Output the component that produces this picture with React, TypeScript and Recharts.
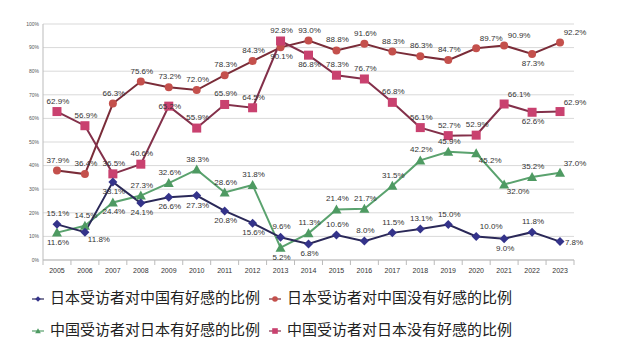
import { LineChart, Line, XAxis, YAxis, CartesianGrid, LabelList } from "recharts";

const years = ["2005", "2006", "2007", "2008", "2009", "2010", "2011", "2012", "2013", "2014", "2015", "2016", "2017", "2018", "2019", "2020", "2021", "2022", "2023"];

// 日本受访者对中国有好感的比例
const jpFavorable = [15.1, 11.8, 33.1, 24.1, 26.6, 27.3, 20.8, 15.6, 9.6, 6.8, 10.6, 8.0, 11.5, 13.1, 15.0, 10.0, 9.0, 11.8, 7.8];
// 日本受访者对中国没有好感的比例
const jpUnfavorable = [37.9, 36.4, 66.3, 75.6, 73.2, 72.0, 78.3, 84.3, 90.1, 93.0, 88.8, 91.6, 88.3, 86.3, 84.7, 89.7, 90.9, 87.3, 92.2];
// 中国受访者对日本有好感的比例
const cnFavorable = [11.6, 14.5, 24.4, 27.3, 32.6, 38.3, 28.6, 31.8, 5.2, 11.3, 21.4, 21.7, 31.5, 42.2, 45.9, 45.2, 32.0, 35.2, 37.0];
// 中国受访者对日本没有好感的比例
const cnUnfavorable = [62.9, 56.9, 36.5, 40.6, 65.2, 55.9, 65.9, 64.5, 92.8, 86.8, 78.3, 76.7, 66.8, 56.1, 52.7, 52.9, 66.1, 62.6, 62.9];

const yTicks = [0, 10, 20, 30, 40, 50, 60, 70, 80, 90, 100];

const seriesNames = [
  "日本受访者对中国有好感的比例",
  "日本受访者对中国没有好感的比例",
  "中国受访者对日本有好感的比例",
  "中国受访者对日本没有好感的比例",
];

// where each value label sits relative to its point
const jpFavPos = ["t", "br", "b", "b", "b", "b", "b", "b", "t", "b", "t", "t", "t", "t", "t", "tr", "b", "t", "r"];
const jpUnfavPos = ["t", "t", "t", "t", "t", "t", "t", "t", "b", "t", "t", "t", "t", "t", "t", "tr", "tr", "b", "tr"];
const cnFavPos = ["b", "t", "b", "t", "t", "t", "t", "t", "b", "t", "t", "t", "t", "t", "t", "br", "br", "t", "tr"];
const cnUnfavPos = ["t", "t", "t", "t", "c", "t", "t", "t", "t", "b", "t", "t", "t", "t", "t", "t", "tr", "b", "tr"];

const data = years.map((year, i) => ({
  year,
  jpFav: jpFavorable[i],
  jpUnfav: jpUnfavorable[i],
  cnFav: cnFavorable[i],
  cnUnfav: cnUnfavorable[i],
}));

const W = 640;
const H = 285;
const M = { top: 24, right: 66, left: 13, bottom: 5 };
const Y_W = 30;
const STEP = (W - M.left - Y_W - M.right) / years.length;

const OFF: Record<string, [number, number]> = {
  t: [1, -8],
  b: [1, 12],
  tr: [15, -7],
  br: [14, 10],
  r: [14, 3],
  c: [1, 3],
};

const C = {
  jpFavLine: "#2a2858",
  jpFavDot: "#34338a",
  jpUnfavLine: "#7a2c38",
  jpUnfavDot: "#c4504c",
  cnFavLine: "#5aa26e",
  cnFavDot: "#4e9a62",
  cnUnfavLine: "#83304a",
  cnUnfavDot: "#c9416f",
};

const makeLabel = (pos: string[]) => (props: any) => {
  const { x, y, value, index } = props;
  const [dx, dy] = OFF[pos[index]] || OFF.t;
  return (
    <text x={x + dx} y={y + dy} textAnchor="middle" fontSize={8} fill="#333"
      fontFamily="Liberation Sans, Arial, sans-serif">
      {value.toFixed(1)}%
    </text>
  );
};

const Diamond = ({ cx, cy, fill, s = 4.5 }: any) => (
  <path d={`M${cx},${cy - s}L${cx + s},${cy}L${cx},${cy + s}L${cx - s},${cy}Z`} fill={fill} />
);
const Circle = ({ cx, cy, fill, s = 4 }: any) => <circle cx={cx} cy={cy} r={s} fill={fill} />;
const Square = ({ cx, cy, fill, s = 4.5 }: any) => <rect x={cx - s} y={cy - s} width={2 * s} height={2 * s} fill={fill} />;
const Triangle = ({ cx, cy, fill, s = 5 }: any) => (
  <path d={`M${cx},${cy - s}L${cx + s},${cy + s * 0.8}L${cx - s},${cy + s * 0.8}Z`} fill={fill} />
);

const dotFn = (Shape: any, fill: string) => (p: any) =>
  p.cx == null ? <g key={p.index} /> : <Shape key={p.index} cx={p.cx} cy={p.cy} fill={fill} />;

const YearTick = (props: any) => {
  const { x, y, payload, index } = props;
  const left = x - STEP / 2;
  return (
    <g>
      <line x1={left} y1={y} x2={left} y2={y + 5} stroke="#bbb" />
      {index === years.length - 1 && <line x1={x + STEP / 2} y1={y} x2={x + STEP / 2} y2={y + 5} stroke="#bbb" />}
      <text x={x} y={y + 13} textAnchor="middle" fontSize={7} fill="#333" fontFamily="Liberation Sans, Arial, sans-serif">
        {payload.value}
      </text>
    </g>
  );
};

const LegendMark = ({ color, line, Shape }: any) => (
  <svg width={14} height={10} style={{ verticalAlign: "middle", marginRight: 5 }}>
    <line x1={1} y1={5} x2={13} y2={5} stroke={line} strokeWidth={1.2} />
    <Shape cx={7} cy={5} fill={color} s={2.8} />
  </svg>
);

const legendItems = [
  { name: seriesNames[0], color: C.jpFavDot, line: C.jpFavLine, Shape: Diamond, left: 31, top: 286 },
  { name: seriesNames[1], color: C.jpUnfavDot, line: C.jpUnfavLine, Shape: Circle, left: 268, top: 286 },
  { name: seriesNames[2], color: C.cnFavDot, line: C.cnFavLine, Shape: Triangle, left: 31, top: 318 },
  { name: seriesNames[3], color: C.cnUnfavDot, line: C.cnUnfavLine, Shape: Square, left: 268, top: 318 },
];

export default function App() {
  return (
    <div style={{ position: "absolute", left: 0, top: 0, width: W, height: 352, background: "#fff" }}>
      <LineChart width={W} height={H} data={data} margin={M}>
        <CartesianGrid vertical={false} stroke="#d9d9d9" />
        <XAxis dataKey="year" scale="band" stroke="#bbb" tickSize={0} tickMargin={0} tick={<YearTick />} interval={0} height={20} />
        <YAxis
          domain={[0, 100]}
          ticks={yTicks}
          width={Y_W}
          stroke="#bbb"
          tickSize={0}
          tickMargin={4}
          tick={{ fontSize: 5, fill: "#555", fontFamily: "Liberation Sans, Arial, sans-serif" }}
          tickFormatter={(v) => `${v}%`}
        />
        <Line dataKey="jpUnfav" stroke={C.jpUnfavLine} strokeWidth={2} dot={dotFn(Circle, C.jpUnfavDot)} isAnimationActive={false}>
          <LabelList dataKey="jpUnfav" content={makeLabel(jpUnfavPos)} />
        </Line>
        <Line dataKey="cnUnfav" stroke={C.cnUnfavLine} strokeWidth={2} dot={dotFn(Square, C.cnUnfavDot)} isAnimationActive={false}>
          <LabelList dataKey="cnUnfav" content={makeLabel(cnUnfavPos)} />
        </Line>
        <Line dataKey="cnFav" stroke={C.cnFavLine} strokeWidth={2} dot={dotFn(Triangle, C.cnFavDot)} isAnimationActive={false}>
          <LabelList dataKey="cnFav" content={makeLabel(cnFavPos)} />
        </Line>
        <Line dataKey="jpFav" stroke={C.jpFavLine} strokeWidth={2} dot={dotFn(Diamond, C.jpFavDot)} isAnimationActive={false}>
          <LabelList dataKey="jpFav" content={makeLabel(jpFavPos)} />
        </Line>
      </LineChart>
      {legendItems.map((it) => (
        <div key={it.name} style={{
          position: "absolute", left: it.left, top: it.top, whiteSpace: "nowrap",
          fontFamily: "'Noto Sans CJK SC', sans-serif", fontSize: 15, color: "#222", lineHeight: "22px",
        }}>
          <LegendMark color={it.color} line={it.line} Shape={it.Shape} />
          {it.name}
        </div>
      ))}
    </div>
  );
}
